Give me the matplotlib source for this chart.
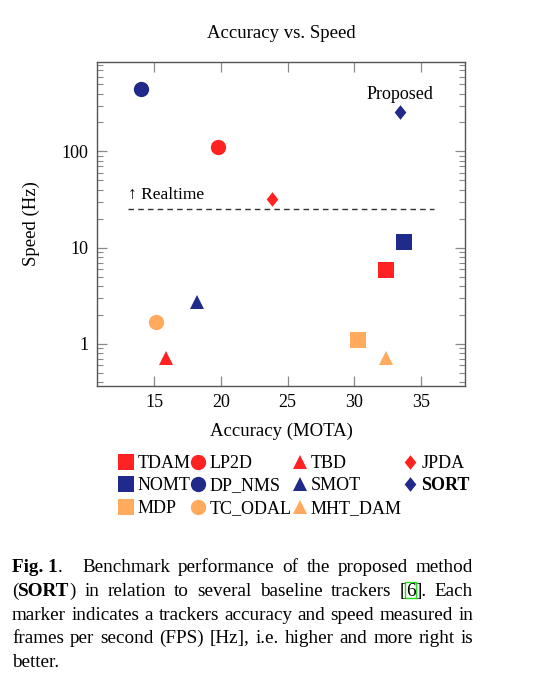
import re
import numpy as np
import matplotlib
matplotlib.use("Agg")
import matplotlib.pyplot as plt
from matplotlib.lines import Line2D
from matplotlib.patches import Rectangle
from matplotlib.ticker import LogLocator, NullFormatter, FixedLocator, FixedFormatter

plt.rcParams["font.family"] = ["Liberation Serif", "DejaVu Serif"]

# ============================================================================
# data (MOTA, Hz)
# ============================================================================
trackers = ["TDAM", "LP2D", "TBD", "JPDA",
            "NOMT", "DP_NMS", "SMOT", "SORT",
            "MDP", "TC_ODAL", "MHT_DAM"]
mota  = [32.4, 19.8, 15.9, 23.8,
         33.7, 14.0, 18.2, 33.4,
         30.3, 15.1, 32.4]
speed = [5.9, 112, 0.72, 32,
         11.5, 444, 2.7, 260,
         1.1, 1.7, 0.72]
shapes = ["s", "o", "^", "dia",
          "s", "o", "^", "dia",
          "s", "o", "^"]
groups = ["red", "red", "red", "red",
          "navy", "navy", "navy", "navy",
          "orange", "orange", "orange"]
REALTIME_HZ = 25
realtime_x  = [13.0, 36.0]

COLORS = {"red": "#ff2222", "navy": "#1f2a8a", "orange": "#ffaa5c"}
DIAMOND = [(0, 1), (0.8, 0), (0, -1), (-0.8, 0), (0, 1)]
MS = {"s": 11.2, "o": 11.0, "^": 10.0, "dia": 10.5}

# ============================================================================
# figure
# ============================================================================
W, H = 551, 684
fig = plt.figure(figsize=(W / 100, H / 100), dpi=100)
ax = fig.add_axes([97 / W, 1 - 386 / H, (465 - 97) / W, (386 - 62) / H])

handles = []
for name, x, y, shp, g in zip(trackers, mota, speed, shapes, groups):
    mk = DIAMOND if shp == "dia" else shp
    ax.plot([x], [y], linestyle="none", marker=mk, ms=MS[shp],
            color=COLORS[g], mec=COLORS[g], mew=0, zorder=3)
    handles.append(Line2D([], [], linestyle="none", marker=mk, ms=MS[shp],
                          color=COLORS[g], mec=COLORS[g], mew=0, label=name))

ax.plot(realtime_x, [REALTIME_HZ] * 2, color="#333333", lw=1.0,
        dashes=(4, 3))
ax.text(13.0, 29, "\u2191 Realtime", fontsize=12.5, ha="left", va="bottom")
ax.text(33.4, 320, "Proposed", fontsize=13, ha="center", va="bottom")

ax.set_yscale("log")
ax.set_xlim(10.7, 38.3)
ax.set_ylim(0.366, 850)
ax.xaxis.set_major_locator(FixedLocator([15, 20, 25, 30, 35]))
ax.yaxis.set_major_locator(FixedLocator([1, 10, 100]))
ax.yaxis.set_major_formatter(FixedFormatter(["1", "10", "100"]))
ax.yaxis.set_minor_locator(LogLocator(base=10, subs=np.arange(2, 10)))
ax.yaxis.set_minor_formatter(NullFormatter())

ax.tick_params(which="both", direction="in", top=True, right=True,
               color="#8a8a8a", labelsize=13, pad=6)
ax.tick_params(which="major", length=7, width=0.9)
ax.tick_params(which="minor", length=4, width=0.8)
for sp in ax.spines.values():
    sp.set_color("#555555")
    sp.set_linewidth(1.0)

ax.set_title("Accuracy vs. Speed", fontsize=13.5, pad=17)
ax.set_xlabel("Accuracy (MOTA)", fontsize=13.5, labelpad=8)
ax.set_ylabel("Speed (Hz)", fontsize=13.5, labelpad=16)

# legend fills column by column -> reorder so rows read as in the paper
NCOL = 4
cols = np.array_split(np.arange(len(handles)), NCOL)
order = []
for c in range(NCOL):
    for r in range(len(cols[c])):
        order.append(r * NCOL + c)
leg = fig.legend(handles=[handles[i] for i in order], ncol=NCOL,
                 loc="upper left", bbox_to_anchor=(117 / W, 1 - 455 / H),
                 frameon=False, fontsize=13, handlelength=1.0,
                 handletextpad=0.12, columnspacing=-0.05, labelspacing=0.3,
                 borderpad=0, borderaxespad=0)
for t in leg.get_texts():
    if t.get_text() == "SORT":
        t.set_fontweight("bold")

# ============================================================================
# caption — justified, word by word
# ============================================================================
caption_lines = [
    ["**Fig. 1**.", "Benchmark", "performance", "of", "the", "proposed", "method"],
    ["(**SORT**)", "in", "relation", "to", "several", "baseline", "trackers", "[{6}].", "Each"],
    ["marker", "indicates", "a", "trackers", "accuracy", "and", "speed", "measured", "in"],
    ["frames", "per", "second", "(FPS)", "[Hz],", "i.e.", "higher", "and", "more", "right", "is"],
    ["better."],
]
CAP_LEFT, CAP_RIGHT = 12, 473
CAP_BASE0, CAP_STEP = 572.5, 23.6
CAP_FS = 13.8

renderer = fig.canvas.get_renderer()


def split_token(tok):
    segs = []
    for part in re.split(r"(\*\*.*?\*\*|\{.*?\})", tok):
        if not part:
            continue
        if part.startswith("**"):
            segs.append((part[2:-2], "bold", False))
        elif part.startswith("{"):
            segs.append((part[1:-1], "normal", True))
        else:
            segs.append((part, "normal", False))
    return segs


for li, line in enumerate(caption_lines):
    base = CAP_BASE0 + li * CAP_STEP
    words = []
    for tok in line:
        items = []
        for txt, wt, boxed in split_token(tok):
            t = fig.text(0, 1 - base / H, txt, fontsize=CAP_FS, fontweight=wt,
                         ha="left", va="baseline")
            w = t.get_window_extent(renderer).width
            items.append((t, w, boxed))
        words.append(items)
    widths = [sum(w for _, w, _ in items) for items in words]
    extra = 12 if li == 0 else 0
    if li < len(caption_lines) - 1:
        gap = (CAP_RIGHT - CAP_LEFT - sum(widths) - extra) / (len(words) - 1)
    else:
        gap = 4.5
    x = CAP_LEFT
    for wi, items in enumerate(words):
        for t, w, boxed in items:
            t.set_x(x / W)
            if boxed:
                fig.patches.append(Rectangle(((x - 1) / W, 1 - (base + 2) / H),
                                             (w + 2) / W, 16 / H,
                                             transform=fig.transFigure,
                                             fill=False, edgecolor="#22dd22",
                                             linewidth=1.0))
            x += w
        x += gap + (extra if wi == 0 else 0)

fig.savefig("out.png", dpi=100)
